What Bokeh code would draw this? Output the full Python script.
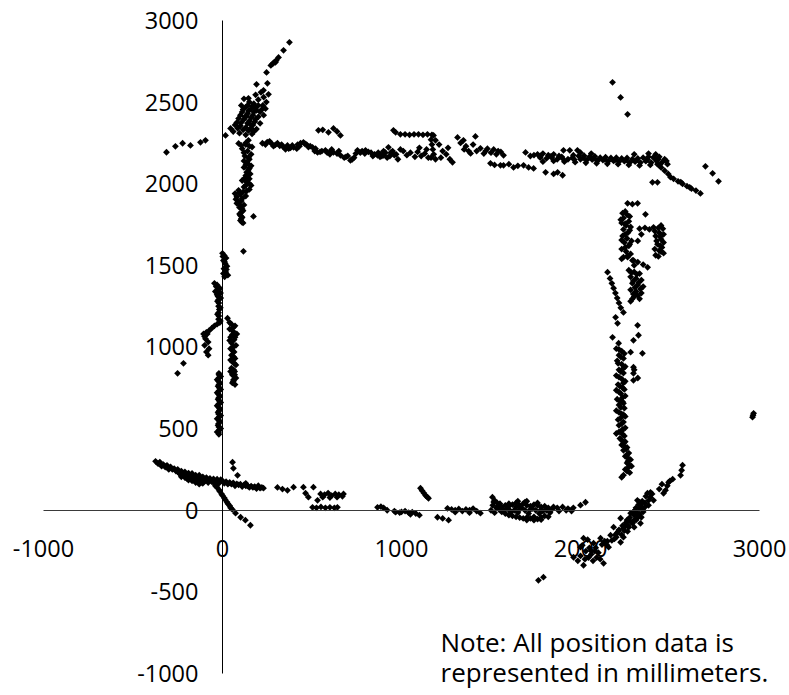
import math
from bokeh.plotting import figure
from bokeh.models import Range1d, FixedTicker, Label, CustomJSTickFormatter
from bokeh.embed import file_html
from bokeh.resources import INLINE

# ---- data (millimetres) ----
x_ticks = [-1000, 0, 1000, 2000, 3000]
y_ticks = [-1000, -500, 0, 500, 1000, 1500, 2000, 2500, 3000]
note_lines = ["Note: All position data is", "represented in millimeters."]

seg_top_left_diag = [
    (374, 2866), (341, 2817), (313, 2774), (300, 2755), (290, 2745), (280, 2735), (296, 2744),
    (270, 2725), (246, 2682), (190, 2609), (251, 2615), (229, 2572), (257, 2548), (145, 2523),
    (200, 2515), (230, 2530), (215, 2560), (120, 2520), (150, 2500), (175, 2490), (200, 2480),
    (130, 2470), (160, 2460), (190, 2450), (220, 2455), (110, 2440), (140, 2430), (170, 2420),
    (200, 2410), (230, 2420), (90, 2400), (120, 2395), (150, 2385), (180, 2380), (210, 2370),
    (70, 2360), (100, 2355), (130, 2345), (160, 2340), (190, 2335), (45, 2339), (60, 2320),
    (95, 2310), (130, 2300), (165, 2305), (17, 2296), (240, 2460), (185, 2545), (105, 2480),
    (135, 2415), (155, 2365), (80, 2375),
    (140, 2480), (165, 2475), (185, 2465), (115, 2455), (145, 2445), (175, 2440), (100, 2420),
    (125, 2410), (160, 2405), (185, 2395), (105, 2375), (140, 2370), (170, 2360), (85, 2340),
    (115, 2330), (145, 2325), (175, 2320), (210, 2440), (225, 2480), (245, 2500),
]

seg_left_column_upper = [
    (130, 2250), (150, 2230), (110, 2215), (140, 2200), (160, 2180), (125, 2170), (150, 2150),
    (135, 2130), (160, 2110), (120, 2100), (145, 2085), (155, 2060), (130, 2050), (150, 2030),
    (110, 2020), (140, 2005), (160, 1990), (120, 1980), (150, 1965), (90, 1960), (70, 1940),
    (100, 1935), (130, 1925), (75, 1905), (105, 1895), (80, 1880), (120, 1870), (95, 1855),
    (115, 1835), (95, 1815), (110, 1795), (100, 1775), (115, 1760), (173, 1800), (145, 2120),
    (120, 2140), (80, 1920), (135, 2010), (90, 2247), (145, 2266), (165, 2225), (105, 2235),
    (130, 2240), (120, 2190), (145, 2160), (130, 2115), (150, 2095), (135, 2070), (140, 2040),
    (125, 2035), (150, 2000), (130, 1990), (135, 1955), (115, 1950), (95, 1945), (110, 1910),
    (90, 1890), (100, 1865), (110, 1845), (105, 1825), (100, 1805), (105, 1785), (108, 1765),
]

seg_top_wall = [
    (-313, 2193), (-263, 2229), (-223, 2248), (-179, 2235), (-123, 2254), (-95, 2266),
    (223, 2248), (263, 2260), (307, 2248), (352, 2211), (363, 2235), (397, 2223), (415, 2215),
    (436, 2248), (452, 2254), (470, 2240), (503, 2223), (520, 2215), (536, 2327), (560, 2330),
    (592, 2315), (620, 2339), (640, 2320), (659, 2296), (531, 2192), (555, 2200), (575, 2205),
    (600, 2195), (620, 2192), (640, 2185), (659, 2174), (680, 2160), (715, 2143), (754, 2205),
    (799, 2205), (830, 2190), (866, 2174), (900, 2174), (927, 2223), (950, 2200), (967, 2315),
    (955, 2327), (883, 2180), (900, 2200), (920, 2160), (940, 2190), (960, 2175), (980, 2150),
    (240, 2240), (285, 2230), (330, 2240), (380, 2220), (420, 2240), (490, 2230), (515, 2200),
    (545, 2195), (585, 2190), (610, 2210), (650, 2200), (700, 2170), (735, 2160), (770, 2190),
    (815, 2195), (850, 2180), (880, 2165), (910, 2190), (935, 2170), (970, 2180),
    (250, 2255), (275, 2245), (295, 2238), (320, 2232), (340, 2225), (370, 2215), (390, 2235),
    (430, 2230), (460, 2245), (480, 2225), (600, 2180), (690, 2165), (725, 2150), (745, 2185),
    (780, 2200), (795, 2185), (840, 2170), (870, 2190), (890, 2170),
    (994, 2210), (994, 2303), (1020, 2303), (1045, 2300), (1070, 2303), (1095, 2303),
    (1120, 2300), (1145, 2303), (1170, 2300), (1179, 2296), (1165, 2270), (1170, 2240),
    (1175, 2210), (1180, 2180), (1190, 2150), (1165, 2160),
    (1010, 2200), (1030, 2175), (1050, 2190), (1075, 2165), (1090, 2195), (1110, 2170),
    (1130, 2185), (1150, 2160), (1140, 2210), (1100, 2220),
    (1190, 2266), (1210, 2240), (1230, 2200), (1250, 2180), (1270, 2150), (1285, 2131),
    (1220, 2160), (1260, 2220), (1313, 2284), (1346, 2266), (1360, 2230), (1375, 2200),
    (1386, 2186), (1413, 2290), (1330, 2250), (1350, 2210), (1400, 2240), (1420, 2200),
    (1441, 2217), (1470, 2200), (1500, 2190), (1530, 2180), (1555, 2195), (1570, 2174),
    (1460, 2185), (1515, 2210), (1480, 2215), (1540, 2200), (1497, 2125), (1520, 2115),
    (1553, 2113), (1570, 2113), (1600, 2120), (1626, 2100), (1650, 2110), (1682, 2113),
    (1710, 2100), (1693, 2192), (1720, 2170), (1740, 2175), (1738, 2094), (1805, 2070),
    (1872, 2070), (1900, 2052), (1850, 2060),
    (1760, 2180), (1790, 2185), (1820, 2175), (1850, 2180), (1880, 2170), (1905, 2205),
    (1940, 2205), (1983, 2205), (1960, 2175), (1990, 2170), (2020, 2172), (2050, 2165),
    (2080, 2168), (2110, 2160), (2140, 2163), (2170, 2158), (2200, 2160), (2230, 2155),
    (2260, 2158), (2290, 2150), (2320, 2155), (2350, 2160), (2380, 2165), (2410, 2160),
    (2440, 2165), (2470, 2150), (2000, 2190), (2060, 2185), (2300, 2180), (2380, 2185),
    (2420, 2180),
    (1775, 2160), (1810, 2155), (1840, 2160), (1870, 2150), (1900, 2155), (1930, 2150),
    (1965, 2148), (2000, 2150), (2035, 2145), (2065, 2148), (2095, 2140), (2125, 2145),
    (2155, 2138), (2185, 2140), (2215, 2135), (2245, 2138), (2275, 2130), (2305, 2135),
    (2335, 2130), (2365, 2138), (2395, 2130), (2425, 2140), (2455, 2130), (2486, 2120),
    (1790, 2135), (1850, 2140), (1910, 2135), (1970, 2132), (2030, 2128), (2090, 2125),
    (2150, 2122), (2210, 2120), (2270, 2115), (2330, 2112), (2390, 2115), (2440, 2112),
    (1775, 2170), (1835, 2168), (1895, 2165), (1955, 2160), (2015, 2158), (2075, 2155),
    (2135, 2150), (2195, 2148), (2255, 2145), (2315, 2145), (2375, 2148), (2435, 2150),
    (2480, 2140),
    (2408, 2162), (2430, 2120), (2450, 2100), (2470, 2080), (2490, 2060), (2503, 2040),
    (2402, 2009), (2430, 2009), (2520, 2030), (2545, 2015), (2570, 2000), (2595, 1985),
    (2620, 1970), (2645, 1958), (2670, 1941), (2560, 2010), (2610, 1978),
    (2698, 2107), (2738, 2064), (2771, 2015), (2179, 2621), (2224, 2529), (2263, 2425),
]

seg_right_wall = [
    (2263, 1880), (2290, 1875), (2319, 1880), (2363, 1813),
    (2235, 1820), (2260, 1810), (2240, 1790), (2270, 1770), (2230, 1760), (2255, 1745),
    (2280, 1735), (2240, 1720), (2265, 1700), (2235, 1680), (2260, 1665), (2285, 1650),
    (2245, 1640), (2270, 1620), (2230, 1600), (2255, 1585), (2280, 1570), (2240, 1550),
    (2296, 1531), (2250, 1830), (2275, 1800), (2225, 1780), (2250, 1755), (2275, 1715),
    (2250, 1690), (2230, 1655), (2275, 1630), (2250, 1610), (2265, 1560), (2230, 1540),
    (2408, 1733), (2435, 1730), (2460, 1725), (2440, 1700), (2464, 1690), (2420, 1680),
    (2450, 1660), (2464, 1640), (2430, 1630), (2455, 1610), (2440, 1590), (2464, 1575),
    (2420, 1562), (2330, 1725), (2360, 1730), (2385, 1720), (2340, 1690), (2320, 1650),
    (2450, 1745), (2415, 1710), (2445, 1675), (2425, 1650), (2445, 1620), (2415, 1600),
    (2450, 1585), (2435, 1555),
    (2263, 1550), (2290, 1530), (2320, 1520), (2350, 1505), (2375, 1488), (2300, 1500),
    (2270, 1470), (2300, 1460), (2330, 1450), (2280, 1430), (2310, 1420), (2340, 1410),
    (2290, 1390), (2320, 1380), (2350, 1370), (2280, 1350), (2310, 1340), (2340, 1330),
    (2300, 1310), (2330, 1295), (2280, 1280), (2285, 1455), (2315, 1445), (2295, 1405),
    (2325, 1395), (2305, 1365), (2335, 1355), (2295, 1325), (2320, 1315), (2290, 1295),
    (2151, 1458), (2165, 1420), (2175, 1390), (2185, 1360), (2195, 1330), (2205, 1300),
    (2215, 1270), (2225, 1240), (2240, 1212), (2196, 1182), (2207, 1145),
    (2319, 1133), (2324, 1072), (2179, 1059), (2213, 1023), (2296, 1041), (2346, 961),
    (2280, 968), (2296, 876), (2300, 860), (2296, 839), (2296, 796), (2320, 810),
    (2200, 990), (2230, 975), (2215, 950), (2240, 930), (2205, 915), (2230, 895), (2250, 880),
    (2215, 860), (2240, 840), (2200, 825), (2230, 805), (2250, 790), (2210, 770), (2235, 750),
    (2200, 735), (2225, 715), (2250, 700), (2205, 680), (2235, 665), (2215, 645), (2245, 625),
    (2200, 610), (2230, 590), (2250, 575), (2210, 555), (2240, 540), (2215, 520), (2250, 505),
    (2230, 485), (2200, 470), (2245, 455), (2220, 440), (2250, 420), (2230, 400), (2260, 385),
    (2240, 367), (2270, 350), (2250, 330), (2280, 310), (2260, 290), (2285, 270), (2250, 250),
    (2275, 230), (2240, 215), (2230, 202),
    (2215, 985), (2245, 960), (2225, 940), (2210, 900), (2240, 870), (2225, 850), (2215, 815),
    (2240, 780), (2220, 760), (2245, 740), (2215, 725), (2235, 690), (2220, 670), (2240, 655),
    (2225, 630), (2215, 600), (2240, 585), (2225, 565), (2230, 530), (2235, 495), (2215, 480),
    (2235, 465), (2230, 430), (2240, 410), (2245, 390), (2255, 375), (2260, 340), (2265, 320),
    (2265, 300), (2270, 280), (2265, 260), (2260, 240),
    (2961, 570), (2967, 594), (2964, 582),
]

seg_left_wall = [
    (0, 1574), (10, 1560), (20, 1545), (5, 1530), (15, 1510), (25, 1495), (8, 1480), (18, 1460),
    (30, 1440), (12, 1430), (117, 1586), (2, 1555), (12, 1520), (22, 1475), (5, 1450),
    (-45, 1390), (-35, 1370), (-20, 1350), (-40, 1340), (-11, 1330), (-25, 1310), (-22, 1290),
    (-20, 1270), (-22, 1250), (-18, 1230), (-22, 1210), (-20, 1190), (-22, 1170), (-15, 1150),
    (-30, 1380), (-15, 1360), (-30, 1320), (-10, 1300), (-28, 1280), (-12, 1240), (-28, 1200),
    (-12, 1160),
    (-30, 1140), (-45, 1130), (-60, 1115), (-75, 1100), (-90, 1090), (-106, 1080), (-100, 1065),
    (-85, 1080), (-95, 1050), (-80, 1030), (-100, 1010), (-75, 990), (-90, 970), (-80, 950),
    (-251, 839), (-218, 900),
    (28, 1176), (50, 1140), (70, 1130), (40, 1110), (60, 1095), (80, 1080), (45, 1060), (65, 1045),
    (50, 1025), (75, 1010), (45, 990), (65, 970), (50, 950), (70, 930), (55, 910), (75, 890),
    (50, 870), (68, 850), (55, 830), (75, 810), (60, 790), (70, 770),
    (40, 1150), (60, 1120), (55, 1075), (70, 1060), (40, 1040), (60, 1000), (55, 980), (62, 940),
    (45, 920), (65, 900), (62, 860), (45, 850), (68, 830), (62, 800), (55, 780),
    (-20, 839), (-10, 820), (-30, 800), (-15, 780), (-25, 760), (-10, 740), (-30, 720), (-15, 700),
    (-25, 680), (-10, 660), (-30, 640), (-15, 620), (-25, 600), (-10, 580), (-30, 560), (-15, 540),
    (-25, 520), (-10, 500), (-30, 480), (-20, 465),
    (-20, 830), (-20, 810), (-22, 790), (-20, 770), (-18, 750), (-20, 730), (-22, 710), (-20, 690),
    (-18, 670), (-22, 650), (-20, 630), (-18, 610), (-22, 590), (-20, 570), (-18, 550), (-22, 530),
    (-20, 510), (-18, 490), (-22, 475),
]

seg_bottom_left = [
    (-374, 300), (-350, 295), (-330, 280), (-310, 275), (-290, 265), (-270, 255), (-250, 250),
    (-230, 240), (-210, 235), (-190, 228), (-170, 225), (-150, 215), (-130, 215), (-110, 205),
    (-90, 200), (-70, 195), (-50, 192), (-30, 190), (-10, 188),
    (-340, 270), (-300, 250), (-260, 240), (-240, 225), (-220, 215), (-200, 210), (-180, 200),
    (-160, 195), (-140, 190), (-120, 180), (-100, 178), (-80, 170), (-60, 175), (-40, 172),
    (-20, 165), (-190, 185), (-170, 180), (-150, 170), (-130, 160), (-110, 165),
    (-360, 285), (-320, 265), (-280, 250), (-250, 235), (-235, 220), (-215, 225), (-195, 215),
    (-175, 210), (-155, 200), (-135, 200), (-115, 190), (-95, 188), (-75, 182), (-55, 185),
    (-35, 180), (-15, 178), (-200, 195), (-180, 190), (-160, 185), (-140, 175), (-120, 170),
    (-210, 200), (-230, 205),
    (0, 180), (20, 175), (40, 170), (60, 168), (80, 162), (100, 160), (120, 155), (140, 150),
    (160, 148), (180, 145), (200, 150), (220, 140), (229, 135), (30, 160), (70, 150), (110, 145),
    (150, 140), (190, 132), (130, 165), (10, 165), (50, 160), (90, 155), (130, 150), (170, 140),
    (210, 135),
    (307, 140), (335, 130), (363, 122), (397, 141), (452, 141), (508, 141), (464, 104), (480, 80),
    (531, 61), (548, 100), (570, 95), (590, 105), (610, 90), (630, 100), (650, 95), (676, 100),
    (560, 80), (600, 78), (640, 80), (670, 85),
    (503, 18), (525, 15), (550, 20), (575, 15), (600, 18), (625, 15), (642, 18),
    (866, 18), (885, 22), (900, 15),
    (-50, 170), (-40, 150), (-30, 140), (-20, 125), (-15, 115), (-5, 100), (0, 90), (10, 75),
    (15, 65), (25, 50), (30, 40), (40, 28), (45, 15), (55, 5), (73, -18), (101, -43), (128, -61),
    (156, -92), (56, 294), (61, 257), (84, 214),
]

seg_bottom_wall = [
    (920, 0), (960, -5), (967, -12), (1000, -10), (1020, -5), (1040, -15), (1060, -12), (1080, -20),
    (1100, -30), (990, -15), (1050, -25),
    (1106, 135), (1115, 120), (1125, 105), (1135, 90), (1145, 80), (1151, 73),
    (1201, -43), (1230, -50), (1263, -61),
    (1257, 12), (1280, 5), (1300, 0), (1320, 8), (1340, -5), (1360, 5), (1380, 0), (1400, 10),
    (1420, -5), (1441, -18), (1300, -12), (1380, -15),
    (1508, 80), (1520, 60), (1535, 45), (1510, 30), (1530, 15), (1500, 0), (1520, -15), (1545, 5),
    (1560, 20), (1580, 30), (1600, 25), (1620, 35), (1640, 20), (1660, 30), (1680, 40), (1700, 30),
    (1720, 25), (1740, 35), (1760, 30), (1780, 20), (1800, 25), (1820, 15), (1849, 20),
    (1560, -10), (1580, -20), (1600, -30), (1620, -35), (1640, -40), (1660, -45), (1680, -50),
    (1700, -45), (1720, -50), (1740, -40), (1760, -55), (1780, -45), (1800, -35), (1820, -40),
    (1570, 0), (1600, 5), (1630, 0), (1660, 5), (1690, 0), (1720, 5), (1750, 0), (1780, 5),
    (1810, 0), (1840, 5), (1650, 55), (1700, 55), (1550, 40),
    (1515, 50), (1540, 25), (1590, 10), (1610, -10), (1650, -15), (1670, 15), (1710, -20),
    (1730, 10), (1770, -20), (1790, -5), (1830, -15), (1600, 40), (1640, 45), (1690, 50),
    (1760, 45), (1700, -60), (1740, -61), (1780, -58),
    (1870, 15), (1900, 20), (1930, 10), (1960, 15), (2000, 31), (2028, 49), (1880, -5), (1920, 0),
    (1950, -5),
]

seg_bottom_right = [
    (2570, 276), (2559, 214), (2565, 245), (2492, 171), (2475, 122), (2464, 104), (2485, 150),
    (2391, 110), (2374, 104), (2390, 80), (2408, 61), (2380, 60),
    (2318, 61), (2340, 40), (2360, 20), (2380, 30), (2330, 10), (2350, -10), (2320, -20),
    (2340, -43), (2300, -30), (2280, -18), (2310, -60), (2335, -80), (2300, -104), (2280, -70),
    (2260, -60), (2224, -49), (2250, -90), (2270, -104), (2240, -110), (2263, -130),
    (2185, -104), (2210, -130), (2230, -150), (2200, -165), (2240, -165),
    (2168, -153), (2190, -175), (2224, -196), (2112, -171), (2135, -190), (2157, -226),
    (2017, -171), (2040, -180), (2073, -202), (2000, -226), (2030, -250), (2060, -270),
    (2090, -290), (2129, -325), (2100, -260), (1961, -288), (1985, -310), (2017, -337),
    (2010, -215), (2050, -230), (2080, -250), (2110, -300), (2145, -210), (2175, -185),
    (2195, -150), (2215, -120), (2235, -95), (2255, -75), (2275, -45), (2295, -10), (2310, 15),
    (2325, 35), (2345, 55), (2365, 85), (2400, 100), (2440, 130), (2455, 160), (2500, 180),
    (2515, 190),
    (2205, -140), (2245, -125), (2265, -95), (2290, -80), (2300, -60), (2320, -45), (2330, -25),
    (2350, 0), (2305, 0), (2340, 20), (2360, 45), (2330, 50), (2150, -190), (2120, -210),
    (2085, -230), (2060, -250), (2045, -290), (2070, -310), (2000, -280), (2025, -300),
    (1765, -429), (1793, -410),
]

segments = [seg_top_left_diag, seg_left_column_upper, seg_top_wall, seg_right_wall,
            seg_left_wall, seg_bottom_left, seg_bottom_wall, seg_bottom_right]
xs = [pt[0] for seg in segments for pt in seg]
ys = [pt[1] for seg in segments for pt in seg]

FONT = "Open Sans"

p = figure(width=789, height=695,
           x_range=Range1d(-1240.2, 3167.6), y_range=Range1d(-1134.8, 3122.5),
           output_backend="svg", toolbar_location=None, min_border=0)
p.outline_line_color = None
p.xgrid.visible = False
p.ygrid.visible = False
p.background_fill_color = "white"
p.border_fill_color = "white"

plain_fmt = CustomJSTickFormatter(code="return String(Math.round(tick));")

for ax in (p.xaxis[0], p.yaxis[0]):
    ax.fixed_location = 0
    ax.bounds = (-1000, 3000)
    ax.major_tick_in = 0
    ax.major_tick_out = 0
    ax.minor_tick_in = 0
    ax.minor_tick_out = 0
    ax.axis_line_color = "black"
    ax.axis_line_width = 1
    ax.major_label_text_font = FONT
    ax.major_label_text_font_size = "23.5px"
    ax.major_label_text_color = "black"
    ax.formatter = plain_fmt
p.xaxis[0].ticker = FixedTicker(ticks=x_ticks)
p.yaxis[0].ticker = FixedTicker(ticks=y_ticks)
p.xaxis[0].major_label_standoff = 30
p.yaxis[0].major_label_standoff = 24
p.xaxis[0].axis_line_color = "#3a3a3a"

p.scatter(xs, ys, marker="square", angle=math.pi / 4, size=4.8,
          fill_color="black", line_color=None)

p.add_layout(Label(x=1218, y=-808, text=note_lines[0], text_font=FONT,
                   text_font_size="26px", text_color="black", text_baseline="alphabetic"))
p.add_layout(Label(x=1218, y=-990, text=note_lines[1], text_font=FONT,
                   text_font_size="26px", text_color="black", text_baseline="alphabetic"))

open("out.html", "w").write(file_html(p, INLINE))
